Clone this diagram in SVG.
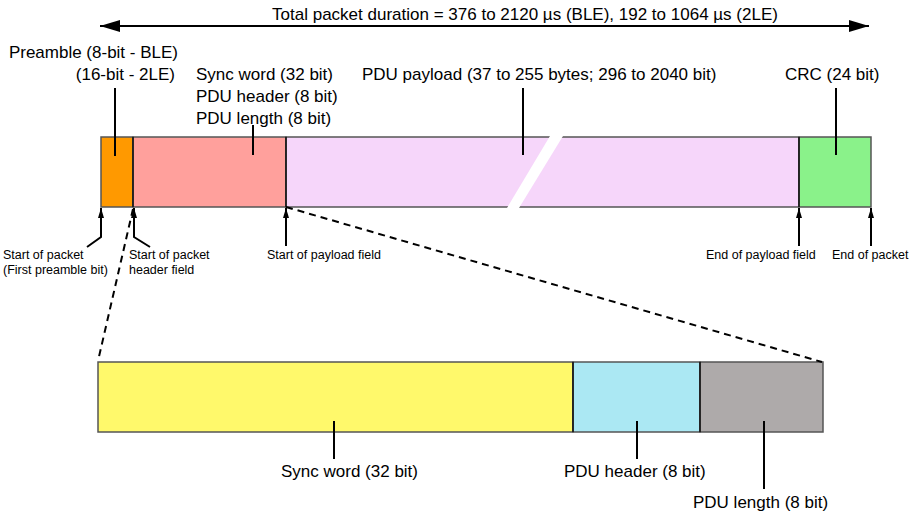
<svg xmlns="http://www.w3.org/2000/svg" width="909" height="514" viewBox="0 0 909 514">
<defs>
<marker id="big" viewBox="0 0 20 12" refX="20" refY="6" markerWidth="20" markerHeight="12" markerUnits="userSpaceOnUse" orient="auto-start-reverse">
<path d="M0,0 L20,6 L0,12 Z" fill="#000"/>
</marker>
<marker id="small" viewBox="0 0 10 6" refX="10" refY="3" markerWidth="10" markerHeight="6" markerUnits="userSpaceOnUse" orient="auto">
<path d="M0,0 L10,3 L0,6 Z" fill="#000"/>
</marker>
<style>
text{font-family:"Liberation Sans",Arial,sans-serif;fill:#000}
.lg{font-size:17px}
.sm{font-size:12.5px}
.box{stroke:#555;stroke-width:1.5}
.div{stroke:#111;stroke-width:1.5}
.lead{stroke:#000;stroke-width:2;fill:none}
.dash{stroke:#000;stroke-width:2;fill:none;stroke-dasharray:7,5}
</style>
</defs>
<rect width="909" height="514" fill="#fff"/>

<g id="title">
<text class="lg" x="525" y="20" text-anchor="middle">Total packet duration = 376 to 2120 µs (BLE), 192 to 1064 µs (2LE)</text>
</g>

<g id="preamble">
<rect x="101" y="137" width="32" height="70" fill="#FF9900" class="box"/>
<text class="lg" x="178" y="58" text-anchor="end">Preamble (8-bit - BLE)</text>
<text class="lg" x="175" y="80" text-anchor="end">(16-bit - 2LE)</text>
</g>
<g id="header">
<rect x="133" y="137" width="153" height="70" fill="#FFA09C" class="box"/>
<text class="lg" x="196" y="80">Sync word (32 bit)</text>
<text class="lg" x="196" y="102">PDU header (8 bit)</text>
<text class="lg" x="196" y="124">PDU length (8 bit)</text>
</g>
<g id="payload">
<rect x="286" y="137" width="513" height="70" fill="#F6D6FA" class="box"/>
<polygon points="550,136 563,136 519,208 507,208" fill="#fff"/>
<text class="lg" x="362" y="80">PDU payload (37 to 255 bytes; 296 to 2040 bit)</text>
</g>
<g id="crc">
<rect x="799" y="137" width="72" height="70" fill="#8AF28A" class="box"/>
<text class="lg" x="785" y="80">CRC (24 bit)</text>
</g>

<g id="sync">
<rect x="98" y="362" width="475" height="70" fill="#FFF96B" class="box"/>
<text class="lg" x="281" y="477">Sync word (32 bit)</text>
</g>
<g id="pduheader">
<rect x="573" y="362" width="127" height="70" fill="#ABE8F3" class="box"/>
<text class="lg" x="564" y="477">PDU header (8 bit)</text>
</g>
<g id="pdulength">
<rect x="700" y="362" width="123" height="70" fill="#AEAAAA" class="box"/>
<text class="lg" x="693" y="508">PDU length (8 bit)</text>
</g>

<g id="markers-text">
<text class="sm" x="3" y="259">Start of packet</text>
<text class="sm" x="3" y="274">(First preamble bit)</text>
<text class="sm" x="129" y="259">Start of packet</text>
<text class="sm" x="129" y="274">header field</text>
<text class="sm" x="267" y="259">Start of payload field</text>
<text class="sm" x="706" y="259">End of payload field</text>
<text class="sm" x="832" y="259">End of packet</text>
</g>

<g id="connectors">
<line x1="100" y1="26" x2="869" y2="26" stroke="#000" stroke-width="2" marker-start="url(#big)" marker-end="url(#big)"/>
<line class="div" x1="133" y1="137" x2="133" y2="207"/>
<line class="div" x1="286" y1="137" x2="286" y2="207"/>
<line class="div" x1="799" y1="137" x2="799" y2="207"/>
<line class="div" x1="573" y1="362" x2="573" y2="432"/>
<line class="div" x1="700" y1="362" x2="700" y2="432"/>
<line class="lead" x1="115" y1="88" x2="115" y2="156"/>
<line class="lead" x1="253" y1="125" x2="253" y2="155"/>
<line class="lead" x1="523" y1="88" x2="523" y2="155"/>
<line class="lead" x1="836" y1="88" x2="836" y2="155"/>
<line class="lead" x1="334" y1="421" x2="334" y2="459"/>
<line class="lead" x1="637" y1="421" x2="637" y2="459"/>
<line class="lead" x1="764" y1="421" x2="764" y2="489"/>
<polyline class="lead" points="87,247 101,237 101,208" marker-end="url(#small)"/>
<polyline class="lead" points="150,247 134,237 134,208" marker-end="url(#small)"/>
<line class="lead" x1="286" y1="246" x2="286" y2="208" marker-end="url(#small)"/>
<line class="lead" x1="799" y1="246" x2="799" y2="208" marker-end="url(#small)"/>
<line class="lead" x1="871" y1="246" x2="871" y2="208" marker-end="url(#small)"/>
<line class="dash" x1="133" y1="209" x2="98" y2="361"/>
<line class="dash" x1="286" y1="207" x2="822" y2="362"/>
</g>
</svg>
